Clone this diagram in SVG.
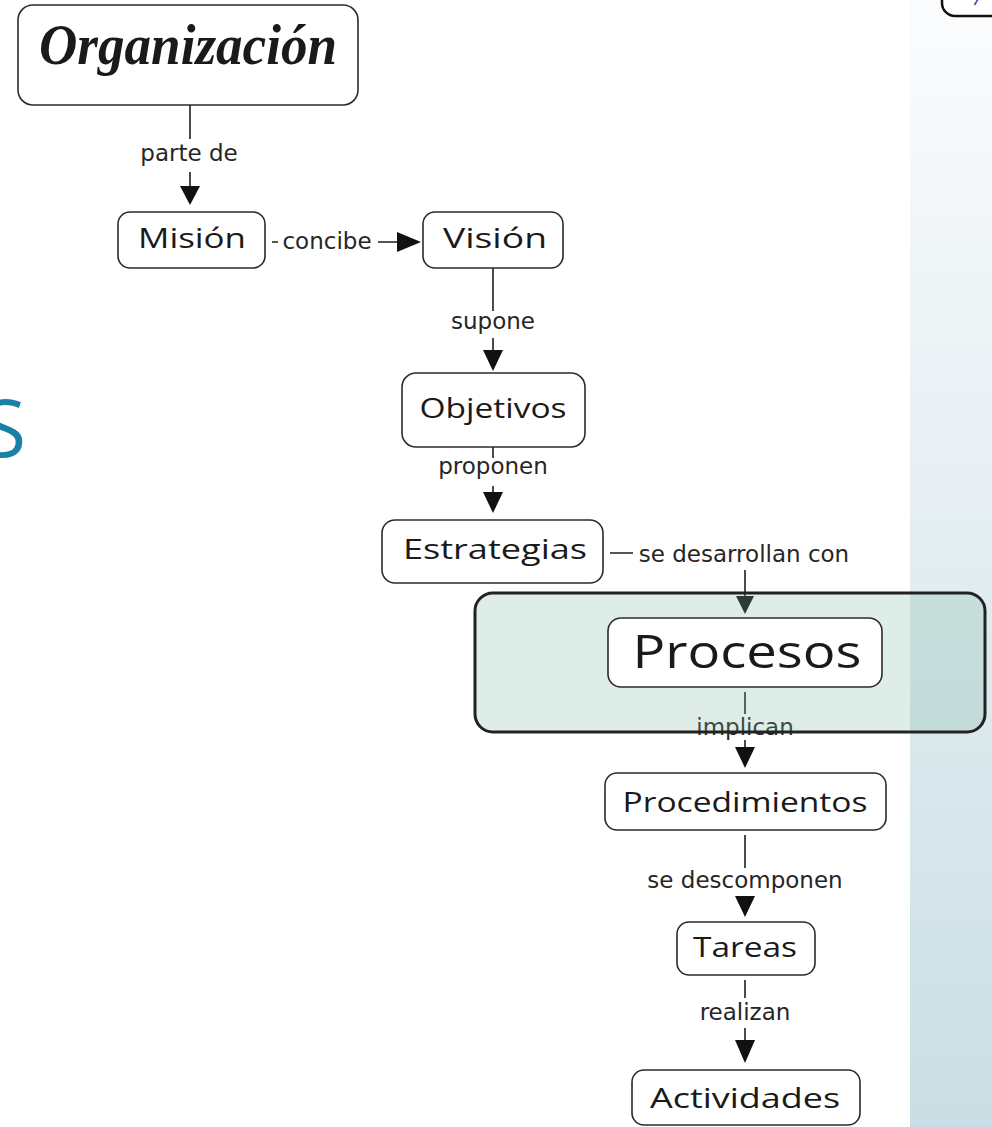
<svg xmlns="http://www.w3.org/2000/svg" width="992" height="1127" viewBox="0 0 992 1127">
  <style>
    .node rect { fill: #ffffff; stroke: #2b2b2b; stroke-width: 1.6; }
    .node text { font-family: "Open Sans", "DejaVu Sans", sans-serif; font-size: 28px; fill: #1a1a1a; text-anchor: middle; }
    .link { stroke: #1e1e1e; stroke-width: 1.6; fill: none; }
    .lbl { font-family: "DejaVu Sans", "Liberation Sans", sans-serif; font-size: 23px; fill: #262626; text-anchor: middle; }
    .head { fill: #111111; }
  </style>
  <defs>
    <linearGradient id="sidePanel" x1="0" y1="0" x2="0" y2="1">
      <stop offset="0" stop-color="#fbfcfd"/>
      <stop offset="0.5" stop-color="#e3edf1"/>
      <stop offset="1" stop-color="#c9dee4"/>
    </linearGradient>
  </defs>

  <!-- background -->
  <rect x="0" y="0" width="992" height="1127" fill="#ffffff"/>
  <rect x="910" y="0" width="82" height="1127" fill="url(#sidePanel)"/>

  <!-- corner widget, top right -->
  <g id="corner">
    <rect x="942" y="-24" width="70" height="40" rx="13" fill="#ffffff" stroke="#111111" stroke-width="2.5"/>
    <path d="M974.5 5 L978 -1" stroke="#2f55a8" stroke-width="1.6" fill="none"/>
  </g>

  <!-- large title letter at the left edge -->
  <text x="26" y="457" font-family="Open Sans, DejaVu Sans, sans-serif" font-size="80" fill="#1b80a8" text-anchor="end">S</text>

  <!-- connectors -->
  <g id="connectors">
    <!-- Organización -> Misión -->
    <path class="link" d="M190 105 V139 M190 172 V190"/>
    <polygon class="head" points="180,186 200,186 190,205"/>
    <text class="lbl" x="189" y="161">parte de</text>

    <!-- Misión -> Visión -->
    <path class="link" d="M272 242 H278 M378 242 H400"/>
    <polygon class="head" points="397,232 397,252 421,242"/>
    <text class="lbl" x="327" y="249">concibe</text>

    <!-- Visión -> Objetivos -->
    <path class="link" d="M493 268 V311 M493 338 V354"/>
    <polygon class="head" points="483,350 503,350 493,371"/>
    <text class="lbl" x="493" y="329">supone</text>

    <!-- Objetivos -> Estrategias -->
    <path class="link" d="M493 447 V458 M493 486 V496"/>
    <polygon class="head" points="483,492 503,492 493,513"/>
    <text class="lbl" x="493" y="474">proponen</text>

    <!-- Estrategias -> Procesos -->
    <path class="link" d="M610 553 H633 M745 570 V600"/>
    <polygon class="head" points="736,596 754,596 745,614"/>
    <text class="lbl" x="744" y="562">se desarrollan con</text>

    <!-- Procesos -> Procedimientos -->
    <path class="link" d="M745 692 V714 M745 740 V751"/>
    <polygon class="head" points="735,747 755,747 745,768"/>
    <text class="lbl" x="745" y="735">implican</text>

    <!-- Procedimientos -> Tareas -->
    <path class="link" d="M745 835 V868"/>
    <polygon class="head" points="735,896 755,896 745,917"/>
    <text class="lbl" x="745" y="888">se descomponen</text>

    <!-- Tareas -> Actividades -->
    <path class="link" d="M745 980 V998 M745 1028 V1044"/>
    <polygon class="head" points="735,1040 755,1040 745,1063"/>
    <text class="lbl" x="745" y="1020">realizan</text>
  </g>

  <!-- highlighted band behind Procesos -->
  <g id="highlight">
    <rect x="475" y="593" width="510" height="139" rx="18" fill="#7bb79f" fill-opacity="0.25" stroke="#222222" stroke-width="3"/>
  </g>

  <!-- concept nodes -->
  <g id="organizacion" class="node">
    <rect x="18" y="5" width="340" height="100" rx="15"/>
    <text x="188" y="64" font-style="italic" font-weight="bold" textLength="298" lengthAdjust="spacingAndGlyphs" style="font-family:'Liberation Serif','DejaVu Serif',serif;font-size:56px">Organización</text>
  </g>
  <g id="mision" class="node">
    <rect x="118" y="212" width="147" height="56" rx="12"/>
    <text x="192" y="248" textLength="108" lengthAdjust="spacingAndGlyphs">Misión</text>
  </g>
  <g id="vision" class="node">
    <rect x="423" y="212" width="140" height="56" rx="12"/>
    <text x="495" y="248" textLength="104" lengthAdjust="spacingAndGlyphs">Visión</text>
  </g>
  <g id="objetivos" class="node">
    <rect x="402" y="373" width="183" height="74" rx="14"/>
    <text x="493" y="418" textLength="147" lengthAdjust="spacingAndGlyphs">Objetivos</text>
  </g>
  <g id="estrategias" class="node">
    <rect x="382" y="520" width="221" height="63" rx="13"/>
    <text x="495" y="559" textLength="184" lengthAdjust="spacingAndGlyphs">Estrategias</text>
  </g>
  <g id="procesos" class="node">
    <rect x="608" y="618" width="274" height="69" rx="13"/>
    <text x="747" y="668" textLength="229" lengthAdjust="spacingAndGlyphs" style="font-size:46px">Procesos</text>
  </g>
  <g id="procedimientos" class="node">
    <rect x="605" y="773" width="281" height="57" rx="12"/>
    <text x="745" y="812" textLength="245" lengthAdjust="spacingAndGlyphs">Procedimientos</text>
  </g>
  <g id="tareas" class="node">
    <rect x="677" y="922" width="138" height="53" rx="12"/>
    <text x="745" y="957" textLength="104" lengthAdjust="spacingAndGlyphs">Tareas</text>
  </g>
  <g id="actividades" class="node">
    <rect x="632" y="1070" width="228" height="55" rx="12"/>
    <text x="745" y="1108" textLength="190" lengthAdjust="spacingAndGlyphs">Actividades</text>
  </g>
</svg>
